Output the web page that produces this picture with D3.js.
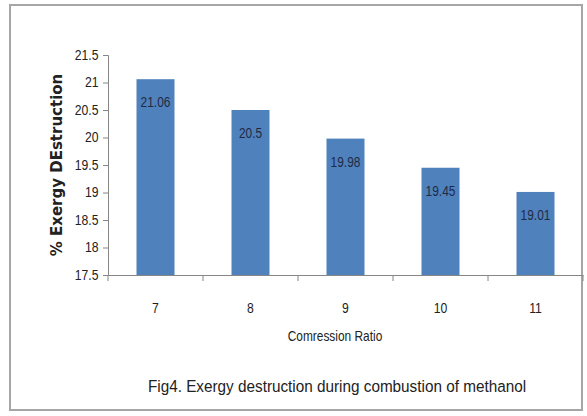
<!DOCTYPE html>
<html><head><meta charset="utf-8">
<script src="https://cdn.jsdelivr.net/npm/d3@7"></script>
<style>body{margin:0;background:#fff;}svg{display:block;}</style>
</head><body>
<script>
const categories = ["7","8","9","10","11"];
const values = [21.06, 20.5, 19.98, 19.45, 19.01];
const yTicks = [17.5, 18, 18.5, 19, 19.5, 20, 20.5, 21, 21.5];
const xTitle = "Comression Ratio";
const yTitle = "% Exergy DEstruction";
const caption = "Fig4. Exergy destruction during combustion of methanol";

const W = 587, H = 416;
const svg = d3.select("body").append("svg").attr("width", W).attr("height", H);
const font = "'Liberation Sans', sans-serif";

svg.append("rect").attr("x", 10).attr("y", 5).attr("width", 572).attr("height", 405)
  .attr("fill", "#fff").attr("stroke", "#a6a6a6").attr("stroke-width", 2);

const m = {left: 108, right: 583, top: 55, bottom: 275};
const x = d3.scaleBand().domain(categories).range([m.left, m.right]).paddingInner(0.6).paddingOuter(0.3);
const y = d3.scaleLinear().domain([17.5, 21.5]).range([m.bottom, m.top]);

svg.selectAll("rect.bar").data(values).enter().append("rect").attr("class", "bar")
  .attr("x", (d, i) => x(categories[i]))
  .attr("width", x.bandwidth())
  .attr("y", d => y(d))
  .attr("height", d => y(17.5) - y(d))
  .attr("fill", "#4f81bd");

svg.selectAll("text.lbl").data(values).enter().append("text").attr("class", "lbl")
  .attr("x", (d, i) => x(categories[i]) + x.bandwidth() / 2)
  .attr("y", d => y(d) + 28)
  .attr("text-anchor", "middle")
  .attr("font-family", font).attr("font-size", 14).attr("fill", "#1f2a44")
  .attr("transform", (d, i) => { const cx = x(categories[i]) + x.bandwidth() / 2; return `translate(${cx},0) scale(0.85,1) translate(${-cx},0)`; })
  .text(d => d);

const yAxis = svg.append("g").attr("transform", `translate(${m.left},0)`)
  .call(d3.axisLeft(y).tickValues(yTicks).tickSize(5).tickPadding(6).tickFormat(d => d));
yAxis.select(".domain").attr("stroke", "#868686");
yAxis.selectAll(".tick line").attr("stroke", "#868686");
yAxis.selectAll("text").attr("font-family", font).attr("font-size", 14).attr("fill", "#222")
  .attr("transform", "scale(0.87,1)");

const xAxis = svg.append("g").attr("transform", `translate(0,${m.bottom})`)
  .call(d3.axisBottom(x).tickSize(0).tickPadding(28));
xAxis.select(".domain").attr("stroke", "#868686");
xAxis.selectAll("text").attr("font-family", font).attr("font-size", 14).attr("fill", "#222")
  .attr("transform", "scale(0.87,1)");
const bounds = categories.map(c => x(c) - x.step() * x.paddingInner() / 2).concat([m.right]);
xAxis.selectAll("line.bt").data(bounds).enter().append("line").attr("class", "bt")
  .attr("x1", d => d).attr("x2", d => d).attr("y1", 0).attr("y2", 6).attr("stroke", "#868686");

svg.append("text").attr("x", 335).attr("y", 341).attr("text-anchor", "middle")
  .attr("font-family", font).attr("font-size", 14).attr("fill", "#222")
  .attr("transform", "translate(335,0) scale(0.85,1) translate(-335,0)").text(xTitle);

svg.append("text").attr("transform", "translate(62,165) rotate(-90)").attr("text-anchor", "middle")
  .attr("font-family", "'DejaVu Sans', sans-serif").attr("font-weight", "bold").attr("font-size", 15)
  .attr("fill", "#222").text(yTitle);

svg.append("text").attr("x", 337).attr("y", 392).attr("text-anchor", "middle")
  .attr("font-family", font).attr("font-size", 17).attr("fill", "#222")
  .attr("transform", "translate(337,0) scale(0.9,1) translate(-337,0)").text(caption);
</script>
</body></html>
